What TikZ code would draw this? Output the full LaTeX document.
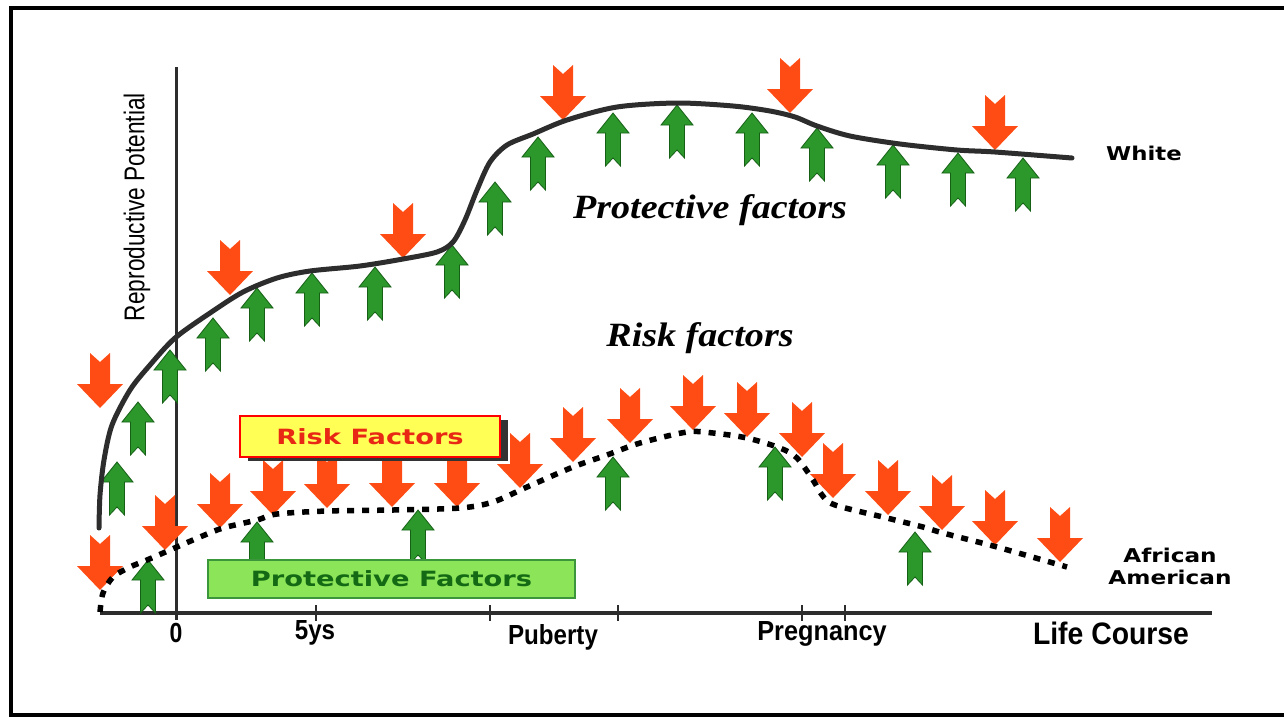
\documentclass[tikz,border=0pt]{standalone}
\usepackage{fontspec}
\setmainfont{Liberation Sans}
\newfontfamily\dejavu{DejaVu Sans}
\newfontfamily\serifbold{Liberation Serif}
\usepackage{tikz}
\usetikzlibrary{positioning,shadows}

\definecolor{riskred}{RGB}{255,76,20}
\definecolor{risktext}{RGB}{232,40,20}
\definecolor{protgreen}{RGB}{44,152,44}
\definecolor{protedge}{RGB}{22,96,22}
\definecolor{prottext}{RGB}{20,105,20}
\definecolor{curvegray}{RGB}{45,45,45}
\definecolor{boxyellow}{RGB}{255,255,85}
\definecolor{boxgreen}{RGB}{140,228,88}
\definecolor{boxgreenedge}{RGB}{60,150,60}

\begin{document}
\begin{tikzpicture}[
  x=1pt,y=-1pt,
  riskarrow/.pic={\fill[riskred] (0,0) -- (23,-24) -- (10,-24) -- (10,-55) -- (0,-46) -- (-10,-55) -- (-10,-24) -- (-23,-24) -- cycle;},
  protarrow/.pic={\filldraw[fill=protgreen,draw=protedge,line width=0.8pt] (0,0) -- (16,20) -- (7.5,20) -- (7.5,53) -- (0,45) -- (-7.5,53) -- (-7.5,20) -- (-16,20) -- cycle;},
  axisline/.style={curvegray,line width=3pt},
  ticklabel/.style={font=\bfseries\fontsize{23}{23}\selectfont,inner sep=0pt},
  curvelabel/.style={font=\dejavu\bfseries\fontsize{19}{21}\selectfont,align=center,inner sep=0pt},
  factorlabel/.style={font=\serifbold\bfseries\itshape\fontsize{34}{34}\selectfont,inner sep=0pt},
  riskbox/.style={draw=red,fill=boxyellow,line width=1.5pt,minimum width=260pt,minimum height=41pt,inner sep=0pt,
    drop shadow={shadow xshift=8pt,shadow yshift=-4pt,opacity=1,fill=black!80},
    font=\dejavu\bfseries\fontsize{21}{21}\selectfont,text=risktext},
  protbox/.style={draw=boxgreenedge,fill=boxgreen,line width=1.5pt,minimum width=367pt,minimum height=38pt,inner sep=0pt,
    font=\dejavu\bfseries\fontsize{21}{21}\selectfont,text=prottext}
]
\useasboundingbox (0,0) rectangle (1284,716);
\draw[line width=4pt] (1284,8) -- (10.5,8) -- (10.5,714.5) -- (1284,714.5);

% axes
\draw[axisline] (176,67) -- (176,620);
\draw[axisline,line width=3.5pt] (100,613) -- (1212,613);
\foreach \t in {316,490,618,802,845}
  \draw[axisline,line width=1.5pt] (\t,605) -- (\t,621);
\node[ticklabel] (zero) at (176,633) {\scalebox{1}[1.2]{0}};
\node[ticklabel] (five) at (315,633) {\scalebox{1.05}[1.2]{5ys}};
\node[ticklabel] (puberty) at (553,637) {\scalebox{1.05}[1.2]{Puberty}};
\node[ticklabel] (pregnancy) at (822,634) {\scalebox{1.1}[1.2]{Pregnancy}};
\node[ticklabel,font=\bfseries\fontsize{27}{27}\selectfont] (lifecourse) at (1111,633) {\scalebox{1.05}[1.15]{Life Course}};
\node[rotate=90,font=\fontsize{22}{22}\selectfont,inner sep=0pt] (potential) at (137,207) {\scalebox{1.03}[1.3]{Reproductive Potential}};

% arrows
\foreach \x/\y in {100/408,230/295,403/258,563/120,790/113,995/150,
  100/590,165/550,220/528,273/515,327/508,392/507,457/507,520/488,573/462,
  630/443,693/430,747/437,802/457,833/498,888/515,942/530,995/545,1060/562}
  \pic at (\x,\y) {riskarrow};
\foreach \x/\y in {117/462,138/402,170/350,213/318,257/288,312/273,375/267,452/245,
  495/182,538/137,613/113,677/105,752/113,817/128,893/145,958/153,1023/158,
  148/560,257/522,418/510,613/457,775/447,915/532}
  \pic at (\x,\y) {protarrow};

% curves
\draw[curvegray,line width=5pt,line cap=round] plot[smooth,tension=0.5] coordinates {
  (99,528) (100,495) (104,460) (112,425) (130,390) (150,365) (175,338) (210,313)
  (243,292) (277,278) (310,271) (360,266) (403,259) (437,252) (453,242) (465,220)
  (477,190) (490,162) (507,145) (533,134) (567,120) (617,107) (677,103) (733,106)
  (770,111) (795,117) (817,126) (850,136) (900,144) (957,150) (995,152) (1072,158)};
\draw[black,line width=5.5pt,dash pattern=on 7pt off 8pt] plot[smooth,tension=0.5] coordinates {
  (100,612) (103,593) (113,577) (130,567) (147,560) (170,550) (200,537) (223,528)
  (257,520) (277,514) (327,511) (393,510) (460,508) (493,502) (527,487) (573,467)
  (607,455) (640,443) (687,432) (713,433) (747,438) (780,448) (797,458) (813,480)
  (822,495) (835,505) (887,518) (923,527) (943,533) (997,547) (1067,567)};

% boxes and labels
\node[riskbox] (riskbox) at (370,436.5) {\scalebox{1.3}[1]{Risk Factors}};
\node[protbox] (protbox) at (391.5,579) {\scalebox{1.3}[1]{Protective Factors}};
\node[curvelabel] (white) at (1144,153) {\scalebox{1.2}[1]{White}};
\node[curvelabel] (african) at (1170,566) {\scalebox{1.22}[1]{African}\\[1pt]\scalebox{1.22}[1]{American}};
\node[factorlabel] (protlabel) at (710,210) {\scalebox{1.12}[1]{Protective factors}};
\node[factorlabel] (risklabel) at (700,338) {\scalebox{1.12}[1]{Risk factors}};
\end{tikzpicture}
\end{document}
